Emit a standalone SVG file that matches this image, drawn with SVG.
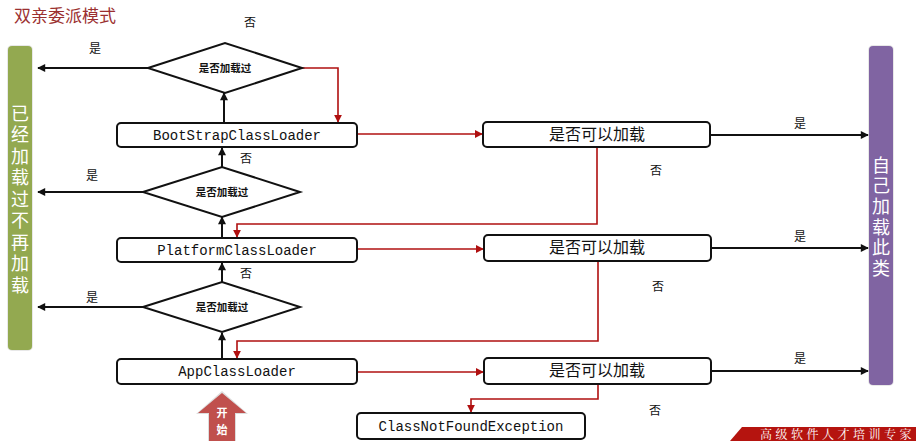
<svg xmlns="http://www.w3.org/2000/svg" width="916" height="441" viewBox="0 0 916 441">
<defs>
<style>
.box{fill:#fff;stroke:#111;stroke-width:2}
.dia{fill:#fff;stroke:#111;stroke-width:2}
.mono{font-family:"Liberation Mono","DejaVu Sans Mono",monospace;font-size:14px;fill:#111;text-anchor:middle}
.cjk{font-family:"Noto Sans CJK SC","Noto Sans",sans-serif;fill:#111;text-anchor:middle}
.q{font-size:16px}
.d{font-size:10.5px;font-weight:bold}
.lbl{font-size:12px}
.bar{font-family:"Noto Sans CJK SC",sans-serif;font-size:18px;fill:#fff;writing-mode:vertical-rl}
.bk{fill:none;stroke:#111;stroke-width:2}
.rd{fill:none;stroke:#B01010;stroke-width:1.6}
</style>
<marker id="ab" viewBox="0 0 10 10" refX="9" refY="5" markerWidth="9" markerHeight="8" markerUnits="userSpaceOnUse" orient="auto"><path d="M0,0 L10,5 L0,10 z" fill="#111"/></marker>
<marker id="ar" viewBox="0 0 10 10" refX="9" refY="5" markerWidth="8" markerHeight="8" markerUnits="userSpaceOnUse" orient="auto"><path d="M0,0 L10,5 L0,10 z" fill="#B01010"/></marker>
</defs>
<rect width="916" height="441" fill="#fff"/>
<text x="14" y="22" font-family="Noto Sans CJK SC,sans-serif" font-size="17" fill="#9B3030">双亲委派模式</text>

<g id="loaded-bar">
<rect x="7" y="45" width="26" height="306" rx="5" fill="#e8e8e8"/>
<rect x="8" y="46" width="24" height="304" rx="4" fill="#93A950"/>
<text class="bar" x="20" y="104" letter-spacing="3.5">已经加载过不再加载</text>
</g>
<g id="self-bar">
<rect x="868" y="45" width="26" height="341" rx="5" fill="#e8e8e8"/>
<rect x="869" y="46" width="24" height="339" rx="4" fill="#8064A2"/>
<text class="bar" x="881" y="156" letter-spacing="2.6">自己加载此类</text>
</g>

<g id="connectors">
<path class="bk" d="M148,68 H38" marker-end="url(#ab)"/>
<path class="bk" d="M143,192 H38" marker-end="url(#ab)"/>
<path class="bk" d="M143,307 H38" marker-end="url(#ab)"/>
<path class="bk" d="M224,123 V93" marker-end="url(#ab)"/>
<path class="bk" d="M222,167 V148" marker-end="url(#ab)"/>
<path class="bk" d="M222,238 V217" marker-end="url(#ab)"/>
<path class="bk" d="M222,282 V263" marker-end="url(#ab)"/>
<path class="bk" d="M222,359 V333" marker-end="url(#ab)"/>
<path class="bk" d="M710,135 H868" marker-end="url(#ab)"/>
<path class="bk" d="M711,248 H868" marker-end="url(#ab)"/>
<path class="bk" d="M711,371 H868" marker-end="url(#ab)"/>
<path class="rd" d="M302,68 H338 V122" marker-end="url(#ar)"/>
<path class="rd" d="M357,134 H482" marker-end="url(#ar)"/>
<path class="rd" d="M597,148 V224 H237 V237" marker-end="url(#ar)"/>
<path class="rd" d="M357,249 H483" marker-end="url(#ar)"/>
<path class="rd" d="M598,261 V341 H237 V358" marker-end="url(#ar)"/>
<path class="rd" d="M357,372 H483" marker-end="url(#ar)"/>
<path class="rd" d="M598,384 V399 H471 V412" marker-end="url(#ar)"/>
</g>

<g id="labels">
<text class="cjk lbl" x="250" y="27">否</text>
<text class="cjk lbl" x="95" y="53">是</text>
<text class="cjk lbl" x="92" y="180">是</text>
<text class="cjk lbl" x="92" y="302">是</text>
<text class="cjk lbl" x="246" y="163">否</text>
<text class="cjk lbl" x="246" y="278">否</text>
<text class="cjk lbl" x="800" y="128">是</text>
<text class="cjk lbl" x="800" y="241">是</text>
<text class="cjk lbl" x="800" y="363">是</text>
<text class="cjk lbl" x="656" y="175">否</text>
<text class="cjk lbl" x="658" y="291">否</text>
<text class="cjk lbl" x="655" y="415">否</text>
</g>

<g id="d1"><polygon class="dia" points="148,68 225,43 302,68 225,93"/><text class="cjk d" x="225" y="72">是否加载过</text></g>
<g id="d2"><polygon class="dia" points="143,192 222,167 300,192 222,217"/><text class="cjk d" x="222" y="196">是否加载过</text></g>
<g id="d3"><polygon class="dia" points="143,307 222,282 300,307 222,332"/><text class="cjk d" x="222" y="311">是否加载过</text></g>

<g id="boot"><rect class="box" x="117" y="123" width="240" height="24" rx="4"/><text class="mono" x="237" y="140">BootStrapClassLoader</text></g>
<g id="platform"><rect class="box" x="117" y="238" width="240" height="24" rx="4"/><text class="mono" x="237" y="255">PlatformClassLoader</text></g>
<g id="app"><rect class="box" x="117" y="359" width="240" height="25" rx="4"/><text class="mono" x="237" y="376">AppClassLoader</text></g>
<g id="q1"><rect class="box" x="483" y="122" width="227" height="25" rx="4"/><text class="cjk q" x="597" y="140">是否可以加载</text></g>
<g id="q2"><rect class="box" x="484" y="235" width="227" height="26" rx="4"/><text class="cjk q" x="597" y="253">是否可以加载</text></g>
<g id="q3"><rect class="box" x="484" y="358" width="227" height="26" rx="4"/><text class="cjk q" x="597" y="376">是否可以加载</text></g>
<g id="cnfe"><rect class="box" x="357" y="413" width="228" height="26" rx="4"/><text class="mono" x="471" y="431">ClassNotFoundException</text></g>

<g id="start">
<polygon points="222,391 248,414 236,414 236,442 208,442 208,414 196,414" fill="#ddd"/>
<polygon points="222,393 246,413 235,413 235,441 209,441 209,413 198,413" fill="#C0504D"/>
<text x="222" y="417" font-family="Noto Sans CJK SC,sans-serif" font-size="11" font-weight="bold" fill="#fff" text-anchor="middle">开</text>
<text x="222" y="434" font-family="Noto Sans CJK SC,sans-serif" font-size="11" font-weight="bold" fill="#fff" text-anchor="middle">始</text>
</g>

<g id="banner">
<polygon points="730,441 742,427 916,427 916,441" fill="#B5140F"/>
<text x="760" y="439" font-family="Noto Serif CJK SC,Noto Sans CJK SC,serif" font-size="12" letter-spacing="3.5" fill="#fff">高级软件人才培训专家</text>
</g>
</svg>
